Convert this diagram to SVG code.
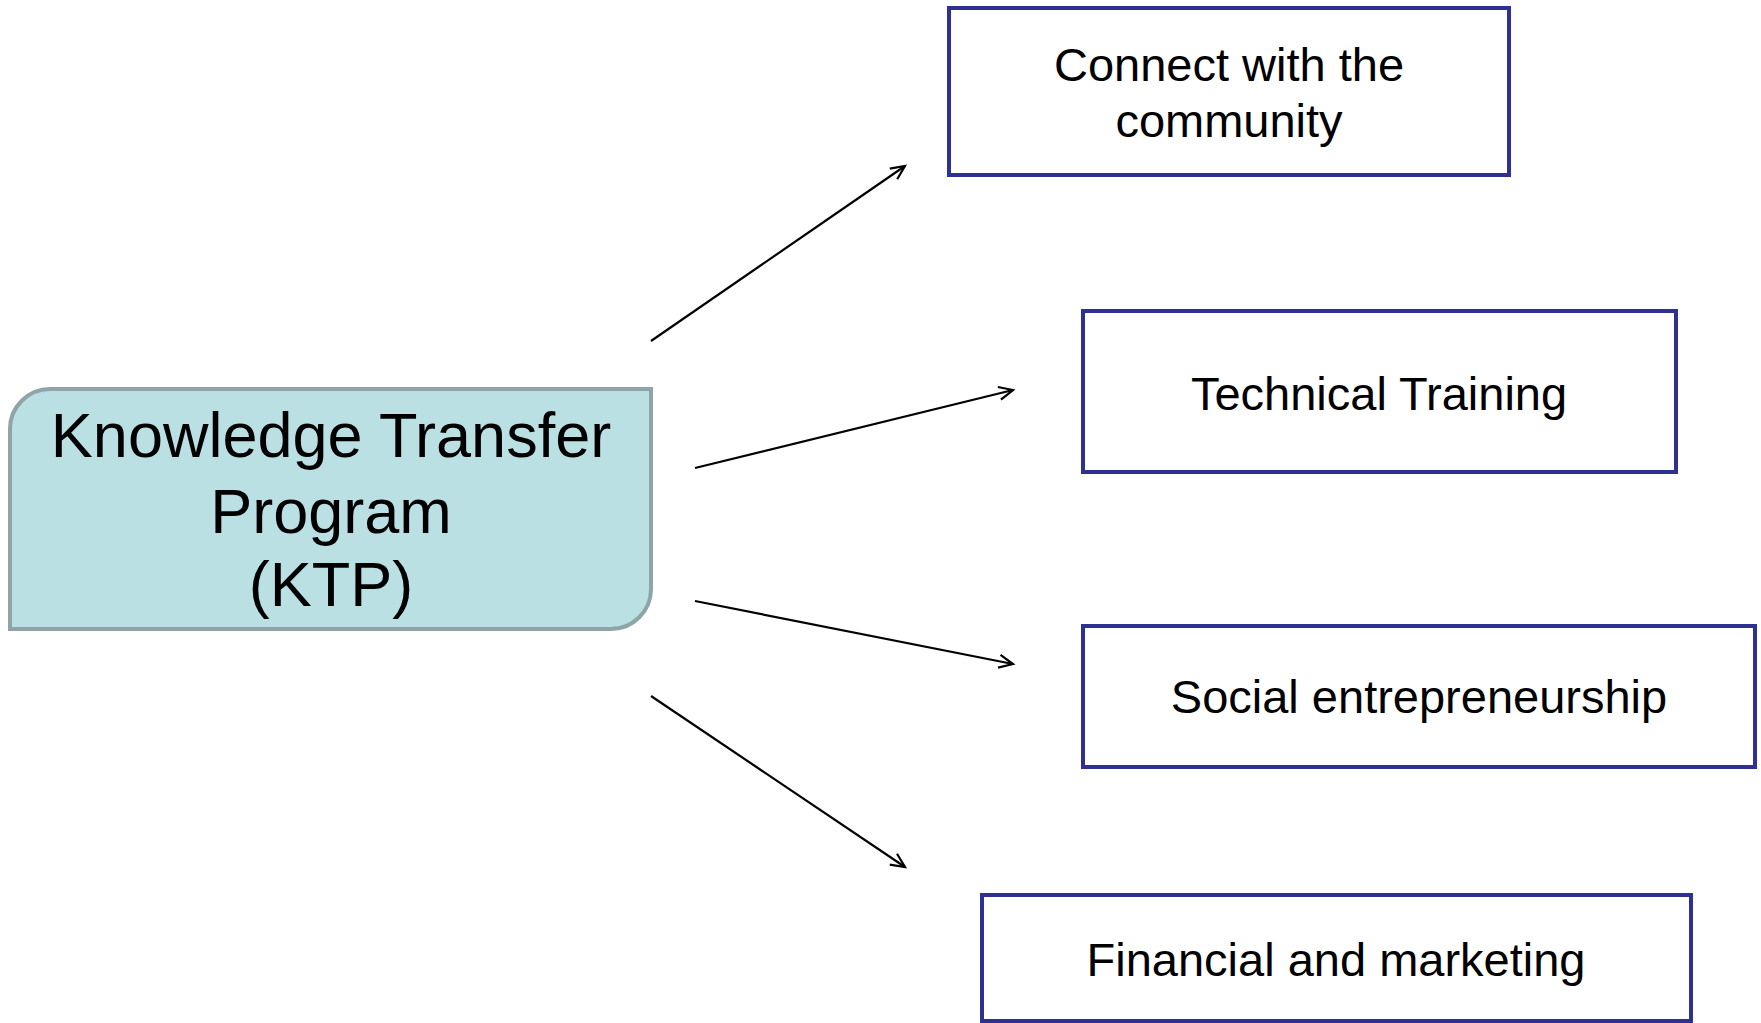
<svg xmlns="http://www.w3.org/2000/svg" width="1761" height="1023" viewBox="0 0 1761 1023">
<style>
.box{fill:#ffffff;stroke:#2E3192;stroke-width:4}
.t{font-family:"Liberation Sans",Arial,sans-serif;fill:#000;text-anchor:middle}
.t1{font-size:63px}
.t2{font-size:47px}
.conn{stroke:#000;stroke-width:2.2;fill:none;marker-end:url(#arr)}
</style>
<defs>
<marker id="arr" markerUnits="userSpaceOnUse" markerWidth="20" markerHeight="20" refX="16" refY="8" orient="auto">
<path d="M2,1.5 L16,8 L2,14.5" fill="none" stroke="#000" stroke-width="2.2"/>
</marker>
</defs>
<rect width="1761" height="1023" fill="#ffffff"/>
<g id="ktp">
<path d="M10,629 L10,429 A40,40 0 0 1 50,389 L651,389 L651,589 A40,40 0 0 1 611,629 Z" fill="#BBE0E3" stroke="#8DA5A8" stroke-width="4"/>
<text class="t t1" x="331" y="457">Knowledge Transfer</text>
<text class="t t1" x="331" y="533">Program</text>
<text class="t t1" x="331" y="606">(KTP)</text>
</g>
<g id="community">
<rect class="box" x="949" y="8" width="560" height="167"/>
<text class="t t2" x="1229" y="81">Connect with the</text>
<text class="t t2" x="1229" y="137">community</text>
</g>
<g id="technical">
<rect class="box" x="1083" y="311" width="593" height="161"/>
<text class="t t2" x="1379" y="410">Technical Training</text>
</g>
<g id="social">
<rect class="box" x="1083" y="626" width="672" height="141"/>
<text class="t t2" x="1419" y="713">Social entrepreneurship</text>
</g>
<g id="financial">
<rect class="box" x="982" y="895" width="709" height="126"/>
<text class="t t2" x="1336" y="976">Financial and marketing</text>
</g>
<g id="connectors">
<line class="conn" x1="651" y1="341" x2="905" y2="166"/>
<line class="conn" x1="695" y1="468" x2="1013" y2="390"/>
<line class="conn" x1="695" y1="601" x2="1013" y2="664"/>
<line class="conn" x1="651" y1="696" x2="905" y2="867"/>
</g>
</svg>
